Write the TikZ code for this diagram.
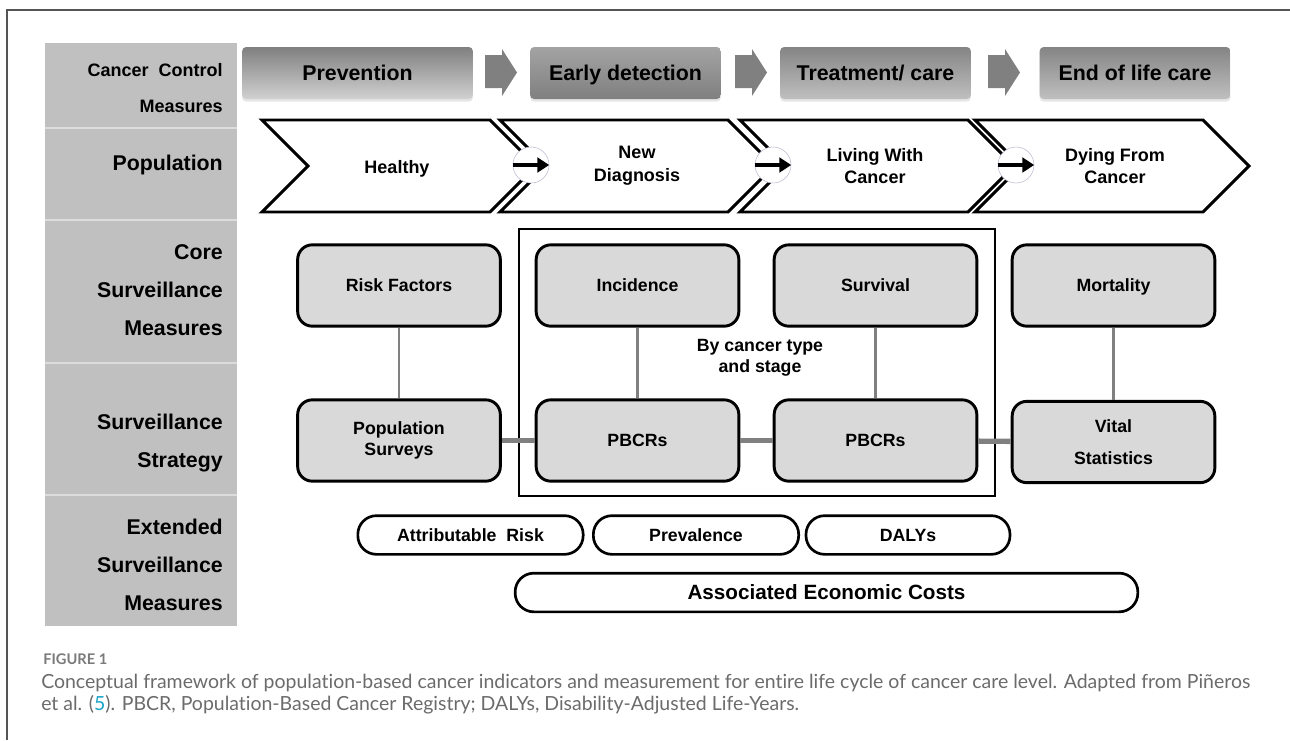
\documentclass[tikz,border=0pt]{standalone}
\usepackage{fontspec}
\setmainfont{Liberation Sans}
\newfontfamily\capfont[Ligatures=NoCommon]{Lato}
\usetikzlibrary{arrows.meta,shadows}

\definecolor{rowgray}{HTML}{C0C0C0}
\definecolor{rowline}{HTML}{DCDCDC}
\definecolor{boxgray}{HTML}{D9D9D9}
\definecolor{linkgray}{HTML}{808080}
\definecolor{framegray}{HTML}{555555}
\definecolor{capgray}{HTML}{6B6B6B}
\definecolor{refblue}{HTML}{1AA3C8}

\begin{document}
\begin{tikzpicture}[x=0.75pt, y=-0.75pt, %%% 1 unit = 1 pixel of the 1290x740 page, y downwards
    rowlabel/.style={anchor=east, align=right, inner sep=0pt, font=\bfseries\fontsize{16}{28.5}\selectfont},
    stagebox/.style={rounded corners=3pt, minimum height=39pt, top color=black!48, bottom color=black!25,
      text height=11.5pt, text depth=0pt, font=\bfseries\fontsize{16}{19}\selectfont,
      drop shadow={opacity=0.2, shadow xshift=0pt, shadow yshift=-2pt}},
    chevron/.style={draw, line width=2.2pt, fill=white},
    popname/.style={align=center, font=\bfseries\fontsize{13.5}{17}\selectfont},
    junction/.style={circle, draw=blue!20!gray!45, fill=white, minimum size=27pt, inner sep=0pt, thin},
    measure/.style={draw, line width=2.2pt, fill=boxgray, rounded corners=11pt, minimum width=152pt,
      minimum height=61pt, align=center, font=\bfseries\fontsize{13.3}{16}\selectfont},
    oneline/.style={text height=9.5pt, text depth=0pt},
    extended/.style={draw, line width=2pt, rounded corners=14pt, minimum height=29pt, fill=white,
      oneline, font=\bfseries\fontsize{13.3}{16}\selectfont},
    vlink/.style={draw=linkgray, line width=2.2pt},
    hlink/.style={draw=linkgray, line width=4pt},
    captext/.style={anchor=base west, inner sep=0pt, text=capgray, font=\capfont\fontsize{14.6}{17}\selectfont}
  ]
  \useasboundingbox (0,0) rectangle (1290,740);
  %%% page frame
  \draw[framegray, line width=1.1pt] (7,740) -- (7,10) -- (1290,10);

  %%% left column with row titles
  \fill[rowgray] (45,43) rectangle (237,626);
  \foreach \y in {128, 220, 363, 495}{
    \draw[rowline, line width=1.5pt] (45,\y) -- (237,\y);
  }
  \node[rowlabel, font=\bfseries\fontsize{13.5}{27}\selectfont] (lcontrol) at (223,88) {Cancer\ \ Control\\Measures};
  \node[rowlabel] (lpop) at (223,165) {Population};
  \node[rowlabel] (lcore) at (223,290) {Core\\Surveillance\\Measures};
  \node[rowlabel] (lstrat) at (223,443.5) {Surveillance\\Strategy};
  \node[rowlabel] (lext) at (223,565) {Extended\\Surveillance\\Measures};

  %%% cancer control measures
  \node[stagebox, minimum width=173pt, top color=black!50, bottom color=black!18] (prev) at (357.5,73) {Prevention};
  \node[stagebox, minimum width=143pt, top color=black!36, bottom color=black!50] (early) at (625.5,73) {Early detection};
  \node[stagebox, minimum width=143pt] (treat) at (875.5,73) {Treatment/ care};
  \node[stagebox, minimum width=143pt] (eol) at (1135,73) {End of life care};
  \foreach \x in {485, 735, 988}{
    \fill[black!50] (\x,55) -- (\x+17,55) -- (\x+17,49) -- (\x+32,72.5) -- (\x+17,96) -- (\x+17,88) -- (\x,88) -- cycle;
  }

  %%% population chevrons
  \foreach \s in {262, 500, 740, 975}{
    \draw[chevron] (\s,120) -- (\s+228,120) -- (\s+274,166) -- (\s+228,212) -- (\s,212) -- (\s+46,166) -- cycle;
  }
  \node[popname] (healthy) at (397,169) {Healthy};
  \node[popname] (newdiag) at (637,166) {New\\Diagnosis};
  \node[popname] (living) at (875,166) {Living\ With\\Cancer};
  \node[popname] (dying) at (1115,166) {Dying\ From\\Cancer};
  \foreach \x/\n in {531/jone, 773/jtwo, 1016/jthree}{
    \node[junction] (\n) at (\x,165) {};
    \draw[-{Triangle[length=9pt,width=11pt]}, line width=3.2pt] (\n.west) -- (\n.east);
  }

  %%% core measures and surveillance strategy
  \draw[line width=1.8pt] (519,229) rectangle (995,496);
  \node[measure, oneline] (risk) at (399,285.5) {Risk Factors};
  \node[measure, oneline] (inc) at (637.5,285.5) {Incidence};
  \node[measure, oneline] (surv) at (875.5,285.5) {Survival};
  \node[measure, oneline] (mort) at (1113.5,285.5) {Mortality};
  \node[measure] (popsurv) at (399,440.5) {Population\\Surveys};
  \node[measure, oneline] (pbcrone) at (637.5,440.5) {PBCRs};
  \node[measure, oneline] (pbcrtwo) at (875.5,440.5) {PBCRs};
  \node[measure, font=\bfseries\fontsize{13.3}{24}\selectfont] (vital) at (1113.5,442) {Vital\\Statistics};
  \node[align=center, font=\bfseries\fontsize{13.3}{16}\selectfont] (bytype) at (760,358) {By cancer type\\and stage};
  \draw[vlink] (risk) -- (popsurv);
  \draw[vlink] (inc) -- (pbcrone);
  \draw[vlink] (surv) -- (pbcrtwo);
  \draw[vlink] (mort) -- (vital);
  \draw[hlink] (popsurv) -- (pbcrone);
  \draw[hlink] (pbcrone) -- (pbcrtwo);
  \draw[hlink] (pbcrtwo) -- (vital);

  %%% extended measures
  \node[extended, minimum width=169pt] (attrisk) at (470.5,535) {Attributable\ \ Risk};
  \node[extended, minimum width=154pt] (preval) at (696,535) {Prevalence};
  \node[extended, minimum width=153pt] (dalys) at (908,535) {DALYs};
  \node[extended, minimum width=467pt, text height=11.1pt, text depth=0pt,
    font=\bfseries\fontsize{15.5}{18}\selectfont] (costs) at (826.5,592.5) {Associated Economic Costs};

  %%% caption
  \node[captext, font=\capfont\bfseries\fontsize{11}{12}\selectfont, text=capgray!90] (figlabel) at (43,664) {FIGURE 1};
  \node[captext] (capone) at (41,688) {Conceptual framework of population-based cancer indicators and measurement for entire life cycle of cancer care level. Adapted from Piñeros};
  \node[captext] (captwo) at (41,710) {et al. (\textcolor{refblue}{5}). PBCR, Population-Based Cancer Registry; DALYs, Disability-Adjusted Life-Years.};
\end{tikzpicture}
\end{document}
